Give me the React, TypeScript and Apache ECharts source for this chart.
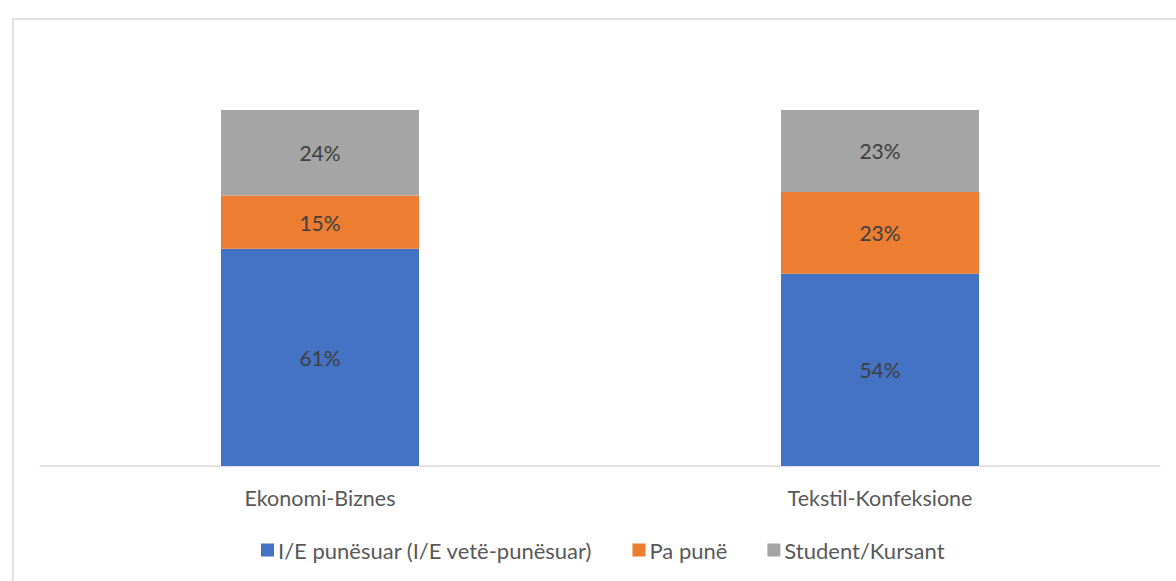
import React, { useEffect, useRef } from "react";
import * as echarts from "echarts";

const categories = ["Ekonomi-Biznes", "Tekstil-Konfeksione"];
const employed = [61, 54];
const unemployed = [15, 23];
const students = [24, 23];
const seriesNames = ["I/E punësuar (I/E vetë-punësuar)", "Pa punë", "Student/Kursant"];
const colors = ["#4472C4", "#ED7D31", "#A5A5A5"];

const FONT = "Lato, 'Open Sans', sans-serif";

export default function App() {
  const ref = useRef<HTMLDivElement>(null);
  useEffect(() => {
    document.body.style.margin = "0";
    const chart = echarts.init(ref.current!, null, { renderer: "svg" });
    const mk = (name: string, data: number[], color: string) => ({
      name,
      type: "bar",
      stack: "total",
      data,
      barWidth: 198,
      itemStyle: { color },
      label: {
        show: true,
        position: "inside",
        formatter: "{c}%",
        color: "#404040",
        fontSize: 21,
        fontFamily: FONT,
      },
    });
    chart.setOption({
      animation: false,
      textStyle: { fontFamily: FONT },
      graphic: [
        {
          type: "rect",
          shape: { x: 13, y: 19, width: 1200, height: 600 },
          style: { fill: "none", stroke: "#d9d9d9", lineWidth: 1.5 },
          silent: true,
        },
      ],
      grid: { left: 40, right: 16, top: 110, bottom: 115 },
      legend: {
        bottom: 15,
        left: 256,
        itemWidth: 13,
        itemHeight: 13,
        itemGap: 40,
        icon: "rect",
        textStyle: { color: "#595959", fontSize: 22, fontFamily: FONT, padding: [0, 0, 0, -1] },
        data: seriesNames,
      },
      xAxis: {
        type: "category",
        data: categories,
        axisLine: { lineStyle: { color: "#d9d9d9", width: 1.5 } },
        axisTick: { show: false },
        axisLabel: { color: "#595959", fontSize: 21.5, fontFamily: FONT, margin: 21 },
      },
      yAxis: {
        type: "value",
        min: 0,
        max: 100,
        show: false,
        splitLine: { show: false },
      },
      series: [
        mk(seriesNames[0], employed, colors[0]),
        mk(seriesNames[1], unemployed, colors[1]),
        mk(seriesNames[2], students, colors[2]),
      ],
    });
    return () => chart.dispose();
  }, []);
  return <div ref={ref} style={{ width: 1176, height: 581 }} />;
}
